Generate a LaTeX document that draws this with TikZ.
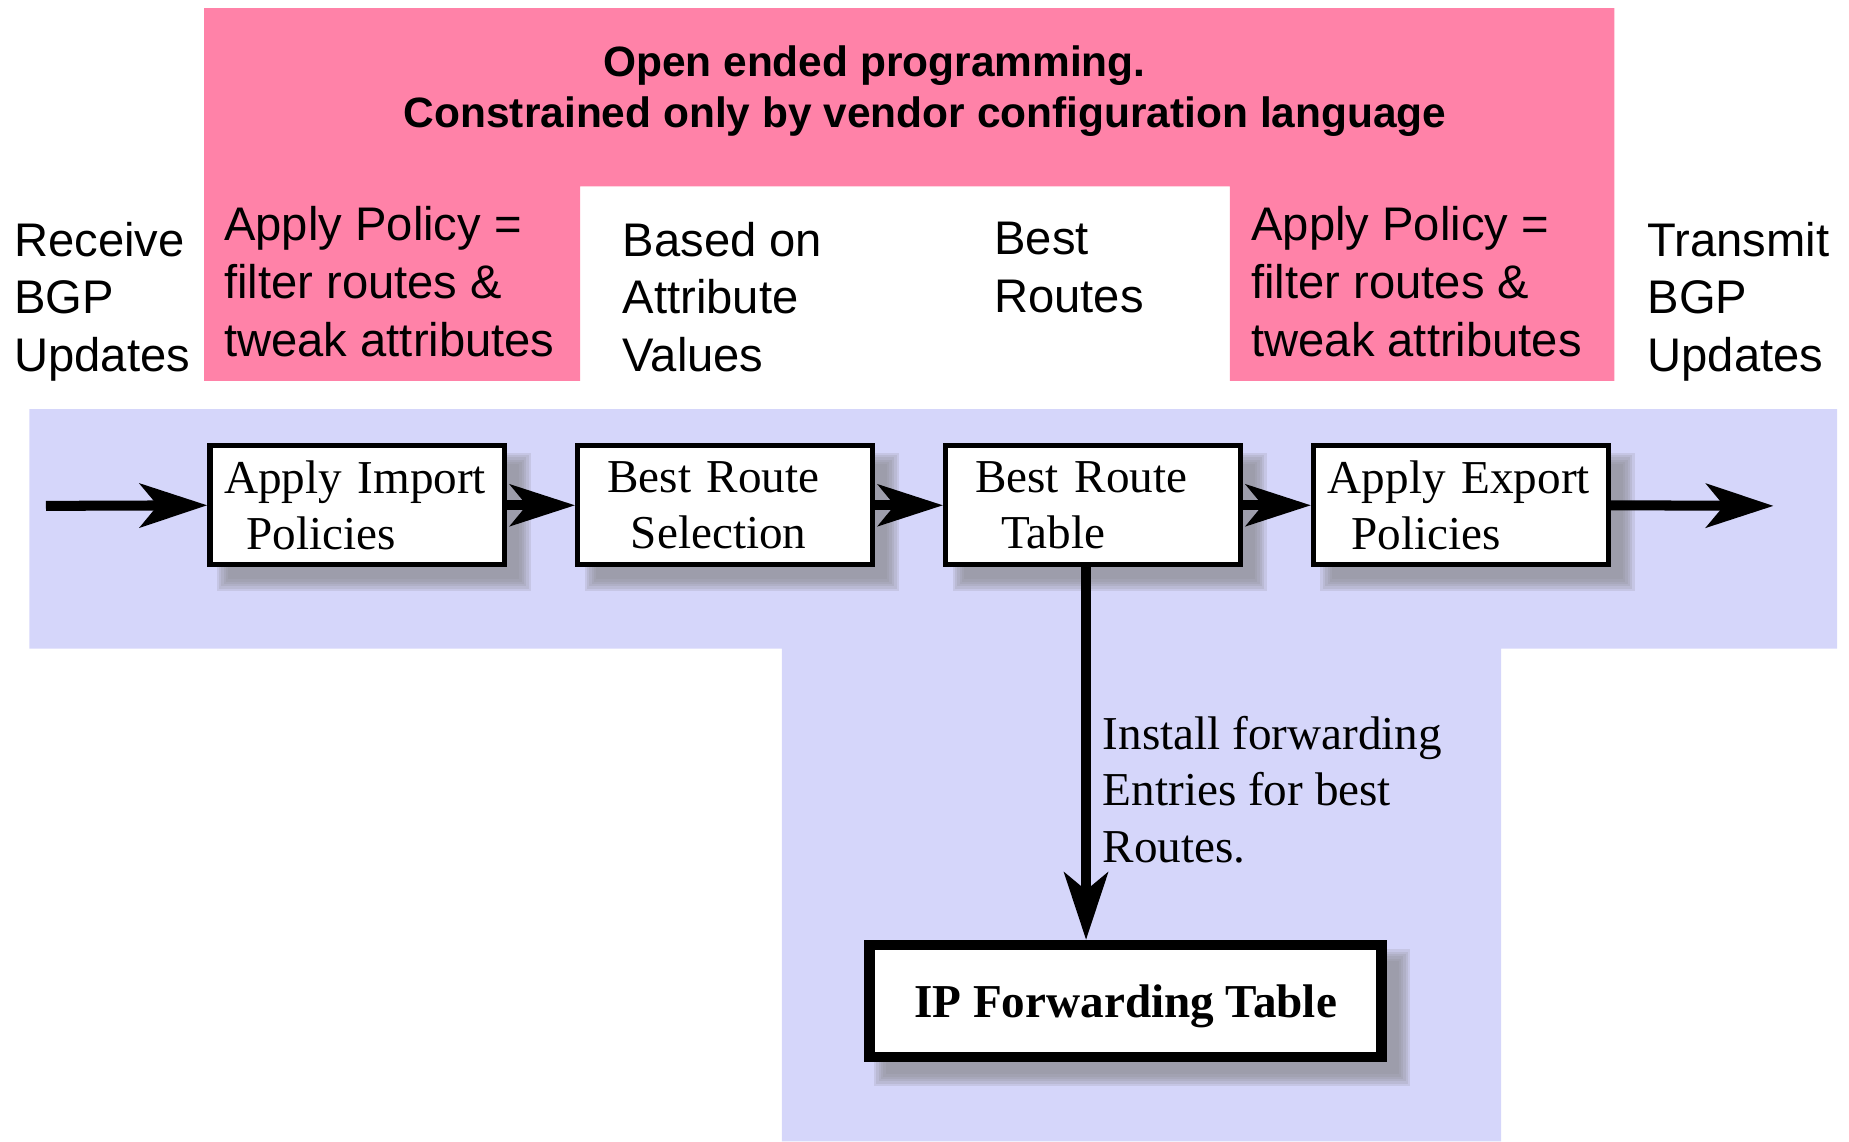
\documentclass[tikz,border=0pt]{standalone}
\usepackage{fontspec}
\setmainfont{Liberation Serif}
\newfontfamily\arialf{Liberation Sans}
\usetikzlibrary{arrows.meta,calc}
\pgfdeclarelayer{bg}
\pgfsetlayers{bg,main}
\definecolor{pinkbg}{RGB}{255,130,168}
\definecolor{bluebg}{RGB}{213,214,250}
\definecolor{shadowc}{RGB}{138,138,146}
\begin{document}
\begin{tikzpicture}[x=1pt,y=-1pt,
  box/.style={draw=black, line width=4.5pt, fill=white, minimum width=250pt, minimum height=101pt,
    text width=226pt, inner xsep=12pt, inner ysep=0pt, align=left,
    font=\fontsize{40}{47}\selectfont},
  bigbox/.style={draw=black, line width=9pt, fill=white, minimum width=434pt, minimum height=95pt,
    inner sep=0pt, text depth=0pt, font=\bfseries\fontsize{40}{48}\selectfont},
  sanstxt/.style={anchor=north west, inner sep=0pt, align=left, font=\arialf\fontsize{40}{49}\selectfont},
  arr/.style={line width=8.5pt, -{Stealth[length=57pt,width=37pt,inset=15pt]}},
  arrs/.style={line width=8.5pt, -{Stealth[length=55pt,width=35pt,inset=14pt]}}]
\useasboundingbox (0,0) rectangle (1568,968);

% text in the top area
\node[anchor=north, inner sep=0pt, align=center, font=\arialf\bfseries\fontsize{36}{43}\selectfont]
  (title) at (784.5,39) {\mbox{Open ended programming.\kern86pt}\\Constrained only by vendor configuration language};
\node[sanstxt] (recv) at (12,188) {Receive\\BGP\\Updates};
\node[sanstxt] (polL) at (190,175) {Apply Policy =\\filter routes \&\\tweak attributes};
\node[sanstxt] (based) at (528,188) {Based on\\Attribute\\Values};
\node[sanstxt] (best) at (843,188) {Best\\Routes};
\node[sanstxt] (polR) at (1061,175) {Apply Policy =\\filter routes \&\\tweak attributes};
\node[sanstxt] (trans) at (1397,188) {Transmit\\BGP\\Updates};

% boxes
\node[box] (imp) at (303,428.5) {Apply Import\\\hspace*{19pt}Policies};
\node[box] (sel) at (615,428.5) {\hspace*{13pt}Best Route\\\hspace*{33pt}Selection};
\node[box] (brt) at (927,428.5) {\hspace*{13pt}Best Route\\\hspace*{35pt}Table};
\node[box] (exp) at (1239,428.5) {Apply Export\\\hspace*{20pt}Policies};
\node[bigbox] (ipf) at (954.5,849) {IP Forwarding Table};

\node[anchor=north west, inner sep=0pt, align=left, font=\fontsize{40}{48}\selectfont]
  (inst) at (935,607) {Install forwarding\\Entries for best\\Routes.};

\coordinate (in) at (39,429);
\coordinate (out) at (1504,429);
\coordinate (vx) at (921,0);

% connectors
\draw[arr] (in) -- (imp.west);
\draw[arrs] (imp.east) -- (sel.west);
\draw[arrs] (sel.east) -- (brt.west);
\draw[arrs] (brt.east) -- (exp.west);
\draw[arr] (exp.east) -- (out);
\draw[arr] (brt.south -| vx) -- (ipf.north -| vx);

\begin{pgfonlayer}{bg}
  \fill[pinkbg] (173,7) -- (1369,7) -- (1369,323) -- (1043,323) -- (1043,158) -- (492,158)
    -- (492,323) -- (173,323) -- cycle;
  \fill[bluebg] (25,347) -- (1558,347) -- (1558,550) -- (1273,550) -- (1273,968) -- (663,968)
    -- (663,550) -- (25,550) -- cycle;
  \foreach \n in {imp,sel,brt,exp,ipf}{
    \foreach \d in {6,4,2,0,-2,-4}{
      \fill[shadowc,opacity=0.2] ($(\n.north west)+(14-\d,14-\d)$) rectangle ($(\n.south east)+(14+\d,14+\d)$);
    }
  }
\end{pgfonlayer}
\end{tikzpicture}
\end{document}
